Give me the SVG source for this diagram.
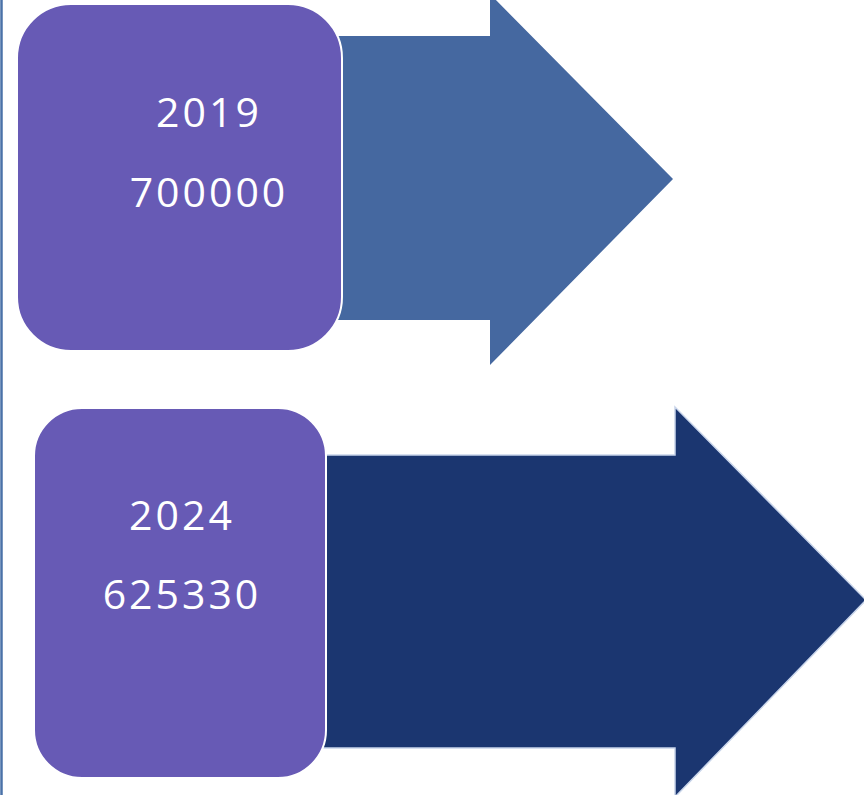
<svg xmlns="http://www.w3.org/2000/svg" width="864" height="795" viewBox="0 0 864 795">
<style>
.box{fill:#675AB5;stroke:#ffffff;stroke-width:2}
.t{font-family:"Open Sans","Liberation Sans",sans-serif;font-size:41px;letter-spacing:3px;fill:#ffffff;text-anchor:middle}
</style>
<rect x="0" y="0" width="864" height="795" fill="#ffffff"/>
<line x1="1.5" y1="0" x2="1.5" y2="795" stroke="#4A72A8" stroke-width="2.5"/>
<g id="connectors">
<polygon id="arrow1" points="330,36 490,36 490,-6 673,179 490,365 490,320 330,320" fill="#4568A0"/>
<polygon id="arrow2" points="320,455 675,455 675,407 866,600 675,797 675,748 320,748" fill="#1B3670" stroke="#C9D5EA" stroke-width="1.5"/>
</g>
<g id="node2019">
<rect class="box" x="17" y="4" width="325" height="347" rx="54"/>
<text class="t" x="209" y="127">2019</text>
<text class="t" x="209" y="207">700000</text>
</g>
<g id="node2024">
<rect class="box" x="34" y="408" width="292" height="370" rx="48"/>
<text class="t" x="182" y="530">2024</text>
<text class="t" x="182" y="609">625330</text>
</g>
</svg>
